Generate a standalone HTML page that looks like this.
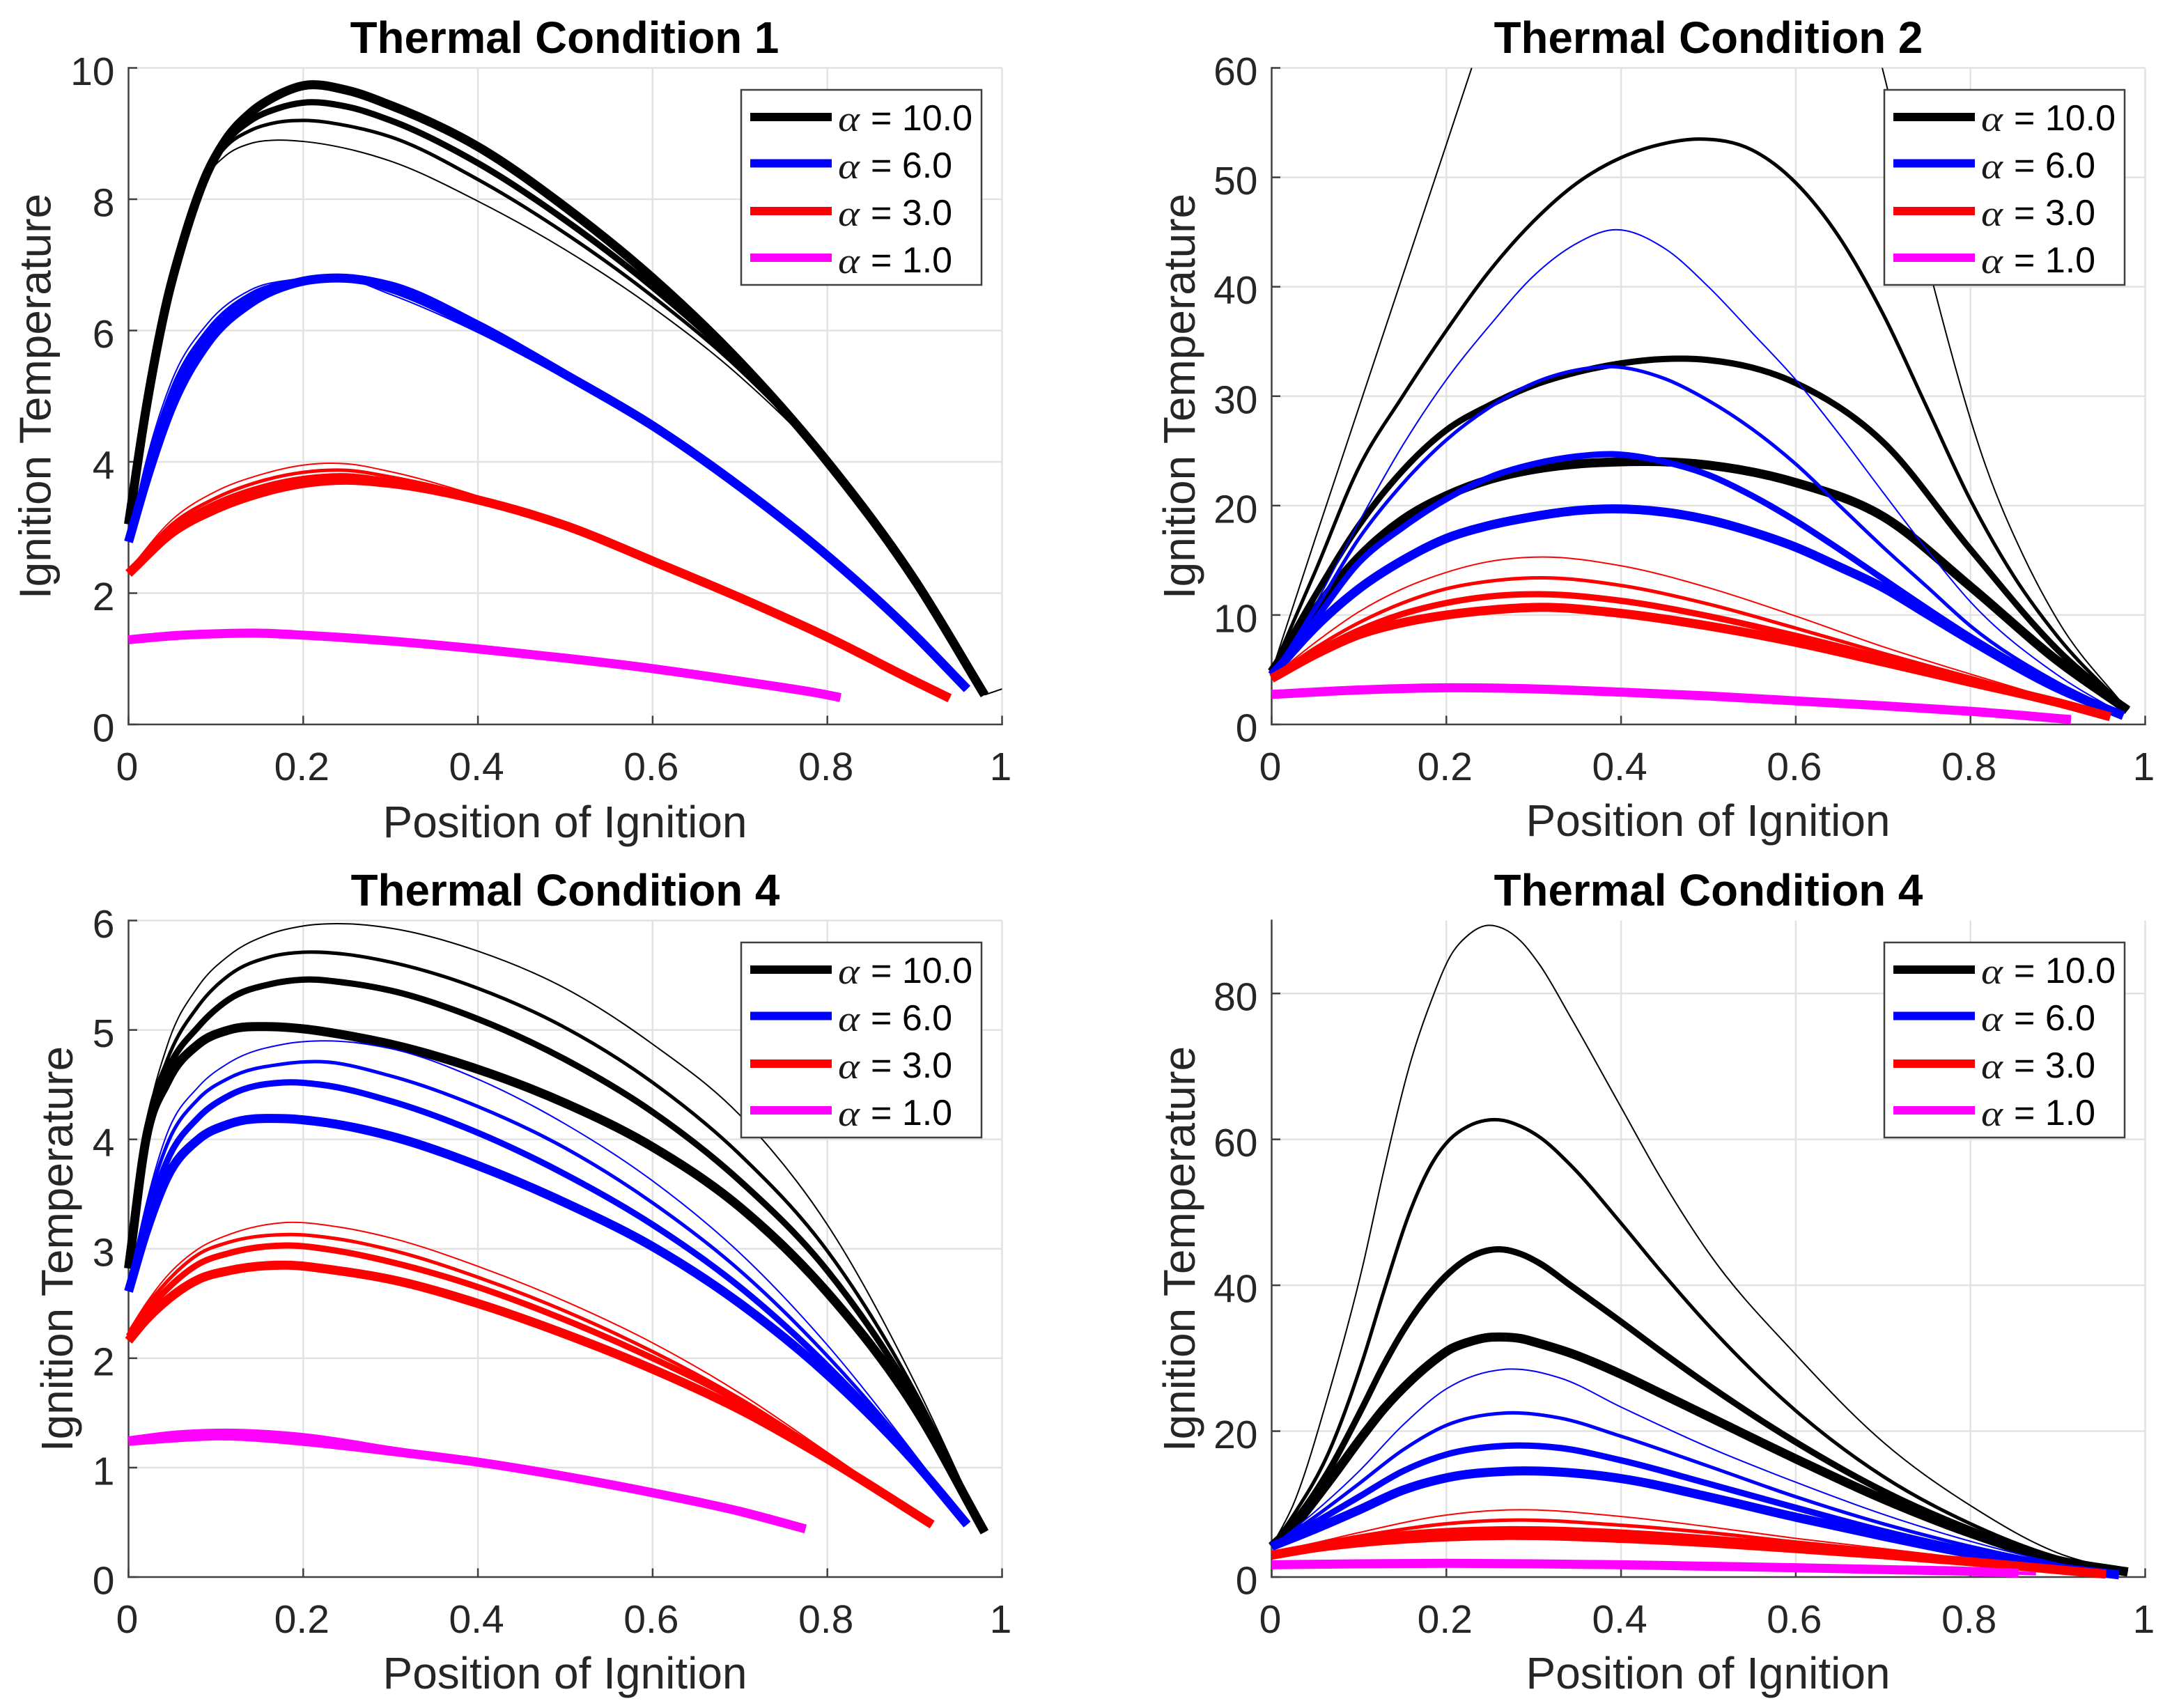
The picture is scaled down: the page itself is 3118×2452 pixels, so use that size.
<!DOCTYPE html>
<html lang="en">
<head>
<meta charset="utf-8">
<title>Ignition Temperature vs Position of Ignition</title>
<style>
html,body{margin:0;padding:0;background:#fff;}
svg{display:block;}
text{font-family:"Liberation Sans",sans-serif;}
.title{font-size:63.7px;font-weight:bold;fill:#000;text-anchor:middle;}
.axlabel{font-size:64px;fill:#262626;text-anchor:middle;}
.tick{font-size:57px;fill:#262626;}
.leg{font-size:52px;fill:#000;}
.alpha{font-family:"Liberation Serif",serif;font-style:italic;font-size:52px;fill:#1a1a1a;}
.legbox{fill:#fff;stroke:#404040;stroke-width:2.5;}
.legline{stroke-width:12;fill:none;}
</style>
</head>
<body>
<svg id="figure" xmlns="http://www.w3.org/2000/svg" width="3118" height="2452" viewBox="0 0 3118 2452">
  <rect width="3118" height="2452" fill="#fff"/>

  <g id="panel1">
    <g class="plot"></g>
    <text class="title" x="810.5" y="76">Thermal Condition 1</text>
    <text class="axlabel" x="811" y="1202">Position of Ignition</text>
    <text class="axlabel" transform="translate(72.5 569) rotate(-90)">Ignition Temperature</text>
    <g>
      <rect class="legbox" x="1064" y="129" width="345" height="280"/>
      <g><line class="legline" x1="1077" x2="1194" y1="168" y2="168" stroke="#000"/><text class="alpha" x="1203" y="188" textLength="31" lengthAdjust="spacingAndGlyphs">α</text><text class="leg" x="1250" y="187">= 10.0</text></g>
      <g><line class="legline" x1="1077" x2="1194" y1="234.5" y2="234.5" stroke="#00f"/><text class="alpha" x="1203" y="256" textLength="31" lengthAdjust="spacingAndGlyphs">α</text><text class="leg" x="1250" y="255">= 6.0</text></g>
      <g><line class="legline" x1="1077" x2="1194" y1="303" y2="303" stroke="#f00"/><text class="alpha" x="1203" y="324" textLength="31" lengthAdjust="spacingAndGlyphs">α</text><text class="leg" x="1250" y="323">= 3.0</text></g>
      <g><line class="legline" x1="1077" x2="1194" y1="370" y2="370" stroke="#f0f"/><text class="alpha" x="1203" y="392" textLength="31" lengthAdjust="spacingAndGlyphs">α</text><text class="leg" x="1250" y="391">= 1.0</text></g>
    </g>
  </g>

  <g id="panel2" transform="translate(1641 0)">
    <g class="plot"></g>
    <text class="title" x="811.5" y="76">Thermal Condition 2</text>
    <text class="axlabel" x="811" y="1200">Position of Ignition</text>
    <text class="axlabel" transform="translate(74 569) rotate(-90)">Ignition Temperature</text>
    <g>
      <rect class="legbox" x="1064" y="129" width="345" height="280"/>
      <g><line class="legline" x1="1077" x2="1194" y1="168" y2="168" stroke="#000"/><text class="alpha" x="1203" y="188" textLength="31" lengthAdjust="spacingAndGlyphs">α</text><text class="leg" x="1250" y="187">= 10.0</text></g>
      <g><line class="legline" x1="1077" x2="1194" y1="234.5" y2="234.5" stroke="#00f"/><text class="alpha" x="1203" y="256" textLength="31" lengthAdjust="spacingAndGlyphs">α</text><text class="leg" x="1250" y="255">= 6.0</text></g>
      <g><line class="legline" x1="1077" x2="1194" y1="303" y2="303" stroke="#f00"/><text class="alpha" x="1203" y="324" textLength="31" lengthAdjust="spacingAndGlyphs">α</text><text class="leg" x="1250" y="323">= 3.0</text></g>
      <g><line class="legline" x1="1077" x2="1194" y1="370" y2="370" stroke="#f0f"/><text class="alpha" x="1203" y="392" textLength="31" lengthAdjust="spacingAndGlyphs">α</text><text class="leg" x="1250" y="391">= 1.0</text></g>
    </g>
  </g>

  <g id="panel3" transform="translate(0 1224)">
    <g class="plot"></g>
    <text class="title" x="811.5" y="76">Thermal Condition 4</text>
    <text class="axlabel" x="811" y="1200">Position of Ignition</text>
    <text class="axlabel" transform="translate(104 569) rotate(-90)">Ignition Temperature</text>
    <g>
      <rect class="legbox" x="1064" y="129" width="345" height="280"/>
      <g><line class="legline" x1="1077" x2="1194" y1="168" y2="168" stroke="#000"/><text class="alpha" x="1203" y="188" textLength="31" lengthAdjust="spacingAndGlyphs">α</text><text class="leg" x="1250" y="187">= 10.0</text></g>
      <g><line class="legline" x1="1077" x2="1194" y1="234.5" y2="234.5" stroke="#00f"/><text class="alpha" x="1203" y="256" textLength="31" lengthAdjust="spacingAndGlyphs">α</text><text class="leg" x="1250" y="255">= 6.0</text></g>
      <g><line class="legline" x1="1077" x2="1194" y1="303" y2="303" stroke="#f00"/><text class="alpha" x="1203" y="324" textLength="31" lengthAdjust="spacingAndGlyphs">α</text><text class="leg" x="1250" y="323">= 3.0</text></g>
      <g><line class="legline" x1="1077" x2="1194" y1="370" y2="370" stroke="#f0f"/><text class="alpha" x="1203" y="392" textLength="31" lengthAdjust="spacingAndGlyphs">α</text><text class="leg" x="1250" y="391">= 1.0</text></g>
    </g>
  </g>

  <g id="panel4" transform="translate(1641 1224)">
    <g class="plot"></g>
    <text class="title" x="811.5" y="76">Thermal Condition 4</text>
    <text class="axlabel" x="811" y="1200">Position of Ignition</text>
    <text class="axlabel" transform="translate(74 569) rotate(-90)">Ignition Temperature</text>
    <g>
      <rect class="legbox" x="1064" y="129" width="345" height="280"/>
      <g><line class="legline" x1="1077" x2="1194" y1="168" y2="168" stroke="#000"/><text class="alpha" x="1203" y="188" textLength="31" lengthAdjust="spacingAndGlyphs">α</text><text class="leg" x="1250" y="187">= 10.0</text></g>
      <g><line class="legline" x1="1077" x2="1194" y1="234.5" y2="234.5" stroke="#00f"/><text class="alpha" x="1203" y="256" textLength="31" lengthAdjust="spacingAndGlyphs">α</text><text class="leg" x="1250" y="255">= 6.0</text></g>
      <g><line class="legline" x1="1077" x2="1194" y1="303" y2="303" stroke="#f00"/><text class="alpha" x="1203" y="324" textLength="31" lengthAdjust="spacingAndGlyphs">α</text><text class="leg" x="1250" y="323">= 3.0</text></g>
      <g><line class="legline" x1="1077" x2="1194" y1="370" y2="370" stroke="#f0f"/><text class="alpha" x="1203" y="392" textLength="31" lengthAdjust="spacingAndGlyphs">α</text><text class="leg" x="1250" y="391">= 1.0</text></g>
    </g>
  </g>
</svg>

<script>
// ---- shared tick values ----
const xTickValues = [0, 0.2, 0.4, 0.6, 0.8, 1];
const xTickLabels = ['0', '0.2', '0.4', '0.6', '0.8', '1'];

// ---- Panel 1 ----
const p1YTicks = [0, 2, 4, 6, 8, 10];
const p1BlackX = [0, .02, .044, .063, .09, .11, .14, .17, .2, .25, .3, .4, .5, .6, .7, .8, .9, .98];
const p1BlackA = [3.05, 4.8, 6.45, 7.38, 8.35, 8.65, 8.85, 8.9, 8.88, 8.77, 8.58, 7.97, 7.23, 6.35, 5.3, 3.98, 2.2, .45];
const p1BlackB = [3.05, 4.8, 6.45, 7.38, 8.4, 8.78, 9.05, 9.17, 9.2, 9.12, 8.95, 8.3, 7.48, 6.52, 5.4, 4.0, 2.2, .45];
const p1BlackC = [3.05, 4.8, 6.45, 7.38, 8.4, 8.84, 9.2, 9.38, 9.47, 9.41, 9.2, 8.55, 7.68, 6.66, 5.47, 4.0, 2.2, .45];
const p1BlackD = [3.05, 4.8, 6.45, 7.38, 8.4, 8.88, 9.32, 9.58, 9.73, 9.66, 9.43, 8.8, 7.88, 6.8, 5.52, 4.0, 2.2, .45];
const p1TailX = [.98, 1];
const p1TailY = [.45, .54];
const p1BlueX = [0, .02, .05, .09, .14, .19, .24, .3, .4, .5, .6, .7, .8, .9, .96];
const p1BlueA = [2.84, 4.0, 5.25, 6.1, 6.62, 6.78, 6.82, 6.55, 5.97, 5.27, 4.53, 3.62, 2.57, 1.36, .54];
const p1BlueB = [2.82, 3.9, 5.12, 6.0, 6.56, 6.76, 6.81, 6.6, 6.0, 5.29, 4.54, 3.62, 2.57, 1.36, .54];
const p1BlueC = [2.8, 3.8, 4.98, 5.9, 6.48, 6.74, 6.8, 6.65, 6.04, 5.31, 4.55, 3.62, 2.57, 1.36, .54];
const p1BlueD = [2.78, 3.7, 4.85, 5.8, 6.42, 6.72, 6.8, 6.68, 6.08, 5.33, 4.55, 3.62, 2.57, 1.36, .54];
const p1RedX = [0, .05, .1, .15, .2, .25, .3, .4, .5, .6, .7, .8, .9, .94];
const p1RedA = [2.35, 3.12, 3.55, 3.8, 3.95, 3.97, 3.85, 3.48, 3.03, 2.49, 1.93, 1.33, .66, .4];
const p1RedB = [2.33, 3.05, 3.45, 3.7, 3.84, 3.87, 3.77, 3.46, 3.03, 2.49, 1.93, 1.33, .66, .4];
const p1RedC = [2.32, 2.98, 3.36, 3.6, 3.74, 3.78, 3.7, 3.44, 3.03, 2.49, 1.93, 1.33, .66, .4];
const p1RedD = [2.3, 2.92, 3.28, 3.52, 3.67, 3.72, 3.67, 3.42, 3.03, 2.49, 1.93, 1.33, .66, .4];
const p1MagX = [0, .05, .1, .15, .2, .3, .4, .5, .6, .7, .8, .815];
const p1MagA = [1.31, 1.37, 1.4, 1.41, 1.38, 1.29, 1.16, 1.01, .85, .66, .45, .41];
const p1MagB = [1.3, 1.36, 1.39, 1.4, 1.37, 1.28, 1.15, 1.01, .85, .66, .45, .41];
const p1MagC = [1.3, 1.36, 1.39, 1.4, 1.37, 1.28, 1.15, 1.01, .85, .66, .45, .41];
const p1MagD = [1.29, 1.35, 1.38, 1.39, 1.36, 1.27, 1.15, 1.01, .85, .66, .45, .41];

// ---- Panel 2 ----
const p2YTicks = [0, 10, 20, 30, 40, 50, 60];
const p2TopX = [0, .05, .1, .15, .2, .229, .3, .4, .5, .6, .65, .699, .758, .818, .86, .9, .98];
const p2TopY = [4.8, 17, 29, 41, 53, 60, 76, 88, 92, 84, 74, 60, 40, 23.5, 15.5, 9.5, 1.3];
const p2BlackBX = [0, .05, .1, .15, .2, .25, .3, .35, .4, .45, .49, .55, .6, .65, .7, .75, .8, .85, .9, .98];
const p2BlackB = [4.8, 14, 23.5, 30, 36, 41.5, 46, 49.5, 51.8, 53.1, 53.5, 52.5, 49.5, 44.5, 37.5, 29, 20.5, 13.5, 8, 1.3];
const p2BlackX = [0, .05, .1, .15, .2, .25, .3, .35, .4, .45, .5, .6, .7, .8, .9, .98];
const p2BlackC = [4.8, 11.8, 18.2, 23.2, 26.9, 29.2, 31, 32.2, 33, 33.4, 33.3, 31.2, 25.8, 16, 6.8, 1.3];
const p2BlackD = [4.8, 10.5, 15.3, 18.7, 20.9, 22.4, 23.3, 23.8, 24, 24, 23.7, 22.1, 19, 12.6, 5.8, 1.3];
const p2BlueX = [0, .05, .1, .15, .2, .25, .3, .35, .39, .45, .5, .55, .6, .65, .7, .75, .8, .9, .975];
const p2BlueA = [4.5, 11, 18.5, 25.5, 31.5, 36.5, 41, 44, 45.2, 43.5, 40, 35.8, 31.5, 26.5, 21.2, 16, 11.2, 4.5, .9];
const p2BlueB = [4.5, 10.5, 17, 22, 26, 29, 31.2, 32.4, 32.7, 31.6, 29.6, 27, 23.8, 20, 16.2, 12.6, 9, 3.8, .9];
const p2BlueC = [4.5, 9.6, 14.8, 18, 20.6, 22.6, 23.8, 24.5, 24.7, 24, 22.8, 20.9, 18.6, 16, 13.3, 10.6, 8, 3.5, .9];
const p2BlueD = [4.5, 8.9, 12.4, 15, 17, 18.2, 19, 19.55, 19.7, 19.4, 18.7, 17.6, 16.2, 14.4, 12.5, 10.1, 7.7, 3.3, .8];
const p2RedX = [0, .05, .1, .15, .2, .25, .31, .4, .5, .6, .7, .8, .9, .96];
const p2RedA = [4.3, 7.5, 10.3, 12.4, 13.9, 14.9, 15.3, 14.5, 12.5, 9.9, 7.1, 4.6, 2.2, .7];
const p2RedB = [4.3, 7.0, 9.3, 11.1, 12.4, 13.1, 13.4, 12.7, 11, 8.8, 6.5, 4.3, 2.1, .7];
const p2RedC = [4.3, 6.6, 8.6, 10.1, 11.1, 11.7, 11.9, 11.3, 9.9, 8.1, 6.1, 4.1, 2.05, .7];
const p2RedD = [4.2, 6.4, 8.2, 9.3, 10, 10.45, 10.7, 10.15, 9, 7.5, 5.7, 3.85, 2, .7];
const p2MagX = [0, .1, .2, .3, .4, .5, .6, .7, .8, .915];
const p2MagA = [2.9, 3.3, 3.5, 3.35, 3.05, 2.65, 2.2, 1.7, 1.2, .45];
const p2MagB = [2.85, 3.25, 3.45, 3.3, 3, 2.6, 2.2, 1.7, 1.2, .45];
const p2MagC = [2.8, 3.2, 3.4, 3.3, 3, 2.6, 2.2, 1.7, 1.2, .45];
const p2MagD = [2.75, 3.15, 3.35, 3.25, 2.95, 2.6, 2.15, 1.7, 1.2, .45];

// ---- Panel 3 ----
const p3YTicks = [0, 1, 2, 3, 4, 5, 6];
const p3BlackX = [0, .02, .044, .08, .115, .163, .2, .25, .3, .4, .5, .6, .7, .8, .9, .98];
const p3BlackA = [2.9, 4.1, 4.85, 5.4, 5.68, 5.88, 5.95, 5.97, 5.93, 5.72, 5.38, 4.87, 4.22, 3.22, 1.78, .41];
const p3BlackB = [2.88, 4.1, 4.72, 5.22, 5.5, 5.67, 5.71, 5.69, 5.62, 5.38, 5.02, 4.52, 3.86, 2.98, 1.7, .41];
const p3BlackC = [2.85, 4.05, 4.62, 5.03, 5.28, 5.42, 5.46, 5.43, 5.36, 5.1, 4.73, 4.25, 3.62, 2.8, 1.63, .41];
const p3BlackD = [2.82, 4.0, 4.52, 4.87, 5.0, 5.03, 5.01, 4.95, 4.87, 4.64, 4.33, 3.93, 3.38, 2.6, 1.55, .41];
const p3BlueX = [0, .02, .044, .08, .115, .178, .22, .3, .4, .5, .6, .7, .8, .9, .96];
const p3BlueA = [2.66, 3.4, 4.05, 4.48, 4.7, 4.87, 4.9, 4.83, 4.55, 4.14, 3.62, 2.96, 2.12, 1.12, .48];
const p3BlueB = [2.65, 3.35, 3.95, 4.37, 4.56, 4.69, 4.71, 4.58, 4.3, 3.92, 3.42, 2.8, 2.02, 1.1, .48];
const p3BlueC = [2.63, 3.25, 3.8, 4.2, 4.4, 4.52, 4.5, 4.35, 4.06, 3.68, 3.22, 2.65, 1.93, 1.07, .48];
const p3BlueD = [2.61, 3.15, 3.65, 4.0, 4.14, 4.19, 4.16, 4.03, 3.76, 3.42, 3.02, 2.5, 1.85, 1.05, .48];
const p3RedX = [0, .02, .044, .08, .115, .18, .24, .3, .4, .5, .6, .7, .8, .92];
const p3RedA = [2.25, 2.5, 2.75, 3.0, 3.13, 3.24, 3.2, 3.1, 2.84, 2.52, 2.14, 1.68, 1.14, .48];
const p3RedB = [2.22, 2.47, 2.7, 2.95, 3.06, 3.13, 3.09, 2.99, 2.74, 2.43, 2.06, 1.63, 1.12, .48];
const p3RedC = [2.2, 2.42, 2.63, 2.86, 2.96, 3.03, 2.98, 2.88, 2.65, 2.35, 2.0, 1.6, 1.1, .48];
const p3RedD = [2.16, 2.35, 2.53, 2.72, 2.8, 2.85, 2.8, 2.72, 2.5, 2.22, 1.9, 1.53, 1.08, .48];
const p3MagX = [0, .05, .1, .2, .3, .4, .5, .6, .7, .775];
const p3MagA = [1.28, 1.33, 1.35, 1.31, 1.19, 1.06, .92, .77, .6, .44];
const p3MagB = [1.27, 1.31, 1.33, 1.29, 1.18, 1.06, .92, .77, .6, .44];
const p3MagC = [1.25, 1.29, 1.31, 1.26, 1.16, 1.05, .92, .77, .6, .44];
const p3MagD = [1.24, 1.27, 1.29, 1.24, 1.15, 1.05, .92, .77, .6, .44];

// ---- Panel 4 ----
const p4YMax = 90;
const p4YTicks = [0, 20, 40, 60, 80];
const p4BlackX = [0, .025, .065, .105, .128, .16, .184, .204, .225, .245, .265, .285, .307, .342, .4, .445, .5, .6, .7, .8, .9, .98];
const p4BlackA = [4.2, 10, 25, 43, 55.5, 71, 79.4, 85, 88, 89.3, 88.9, 87.2, 83.9, 76.8, 64.4, 54.8, 44.5, 30.5, 18.5, 9.8, 3.3, .7];
const p4BlackB = [4.2, 8.5, 17, 30, 39, 50.6, 56.8, 60, 61.8, 62.6, 62.6, 61.8, 60.3, 56.5, 48.5, 42, 34.5, 22.8, 13.8, 7.3, 2.7, .7];
const p4BlackC = [4.2, 7.5, 14.5, 23.5, 29, 35.5, 39.3, 41.8, 43.7, 44.7, 44.9, 44.3, 43, 40, 35, 31, 26.3, 18.5, 11.8, 6.5, 2.4, .7];
const p4BlackD = [4.2, 7, 13, 19.5, 23, 27, 29.5, 31.2, 32.2, 32.8, 32.9, 32.7, 32, 30.7, 27.8, 25.2, 22, 16.2, 10.7, 6, 2.3, .7];
const p4BlueX = [0, .05, .1, .15, .2, .27, .33, .4, .5, .6, .7, .8, .9, .97];
const p4BlueA = [4.2, 9, 14.5, 20.8, 25.8, 28.5, 27.3, 23.3, 17.8, 13, 8.6, 4.9, 1.9, .3];
const p4BlueB = [4.2, 8.3, 12.8, 17.4, 20.8, 22.5, 21.8, 19.3, 15.2, 11, 7.3, 4.2, 1.7, .3];
const p4BlueC = [4.2, 7.5, 11, 14.5, 16.8, 18, 17.7, 16, 12.8, 9.5, 6.3, 3.6, 1.5, .3];
const p4BlueD = [4.2, 6.6, 9.2, 11.9, 13.6, 14.5, 14.4, 13.5, 11, 8.2, 5.6, 3.2, 1.3, .3];
const p4RedX = [0, .05, .1, .2, .27, .4, .5, .6, .7, .8, .9, .955];
const p4RedA = [3.4, 4.7, 6.1, 8.5, 9.2, 8.3, 6.9, 5.3, 3.9, 2.5, 1.1, .4];
const p4RedB = [3.3, 4.5, 5.6, 7.3, 7.8, 7.1, 6.1, 4.8, 3.6, 2.3, 1.05, .4];
const p4RedC = [3.2, 4.3, 5.2, 6.3, 6.55, 6.1, 5.3, 4.3, 3.3, 2.2, 1.0, .4];
const p4RedD = [3, 4.0, 4.7, 5.5, 5.7, 5.3, 4.7, 3.9, 3.05, 2.1, 1.0, .4];
const p4MagX = [0, .1, .2, .3, .4, .5, .6, .7, .8, .855];
const p4MagA = [1.75, 1.9, 1.95, 1.9, 1.75, 1.55, 1.3, 1.05, .8, .52];
const p4MagB = [1.72, 1.87, 1.92, 1.87, 1.72, 1.5, 1.3, 1.05, .8, .52];
const p4MagC = [1.7, 1.85, 1.9, 1.85, 1.7, 1.5, 1.3, 1.05, .8, .52];
const p4MagD = [1.68, 1.82, 1.88, 1.82, 1.68, 1.48, 1.28, 1.03, .78, .52];
const p4MagTailX = [.8, .875];
const p4MagTailY = [.82, .45];

// ---- geometry (local panel coordinates) ----
const SVGNS = 'http://www.w3.org/2000/svg';
const AX = {left: 184.5, right: 1438.5, top: 97.5, bottom: 1040};
const LINE_W = [2, 5, 9, 13];
const X_MAX = 1;

function mk(tag, attrs, parent) {
  const el = document.createElementNS(SVGNS, tag);
  for (const k in attrs) el.setAttribute(k, attrs[k]);
  parent.appendChild(el);
  return el;
}

function xScale(v) {
  return AX.left + (v / X_MAX) * (AX.right - AX.left);
}

function makeYScale(yMax) {
  return function (v) {
    return AX.bottom - (v / yMax) * (AX.bottom - AX.top);
  };
}

function smoothPath(xs, ys, yScale) {
  const px = xs.map(xScale);
  const py = ys.map(yScale);
  const n = px.length;
  const m = [];
  for (let i = 0; i < n; i++) {
    if (i === 0) {
      m.push((py[1] - py[0]) / (px[1] - px[0]));
    } else if (i === n - 1) {
      m.push((py[n - 1] - py[n - 2]) / (px[n - 1] - px[n - 2]));
    } else {
      const h0 = px[i] - px[i - 1];
      const h1 = px[i + 1] - px[i];
      const s0 = (py[i] - py[i - 1]) / h0;
      const s1 = (py[i + 1] - py[i]) / h1;
      m.push((s0 * h1 + s1 * h0) / (h0 + h1));
    }
  }
  let d = 'M' + px[0].toFixed(2) + ' ' + py[0].toFixed(2);
  for (let i = 0; i < n - 1; i++) {
    const h = px[i + 1] - px[i];
    d += 'C' + (px[i] + h / 3).toFixed(2) + ' ' + (py[i] + m[i] * h / 3).toFixed(2) + ' ' +
         (px[i + 1] - h / 3).toFixed(2) + ' ' + (py[i + 1] - m[i + 1] * h / 3).toFixed(2) + ' ' +
         px[i + 1].toFixed(2) + ' ' + py[i + 1].toFixed(2);
  }
  return d;
}

function setupPanel(panelId, yMax, yTicks) {
  const root = document.querySelector('#' + panelId + ' .plot');
  const yScale = makeYScale(yMax);

  const clipId = panelId + '-clip';
  const defs = mk('defs', {}, root);
  const clip = mk('clipPath', {id: clipId}, defs);
  mk('rect', {x: AX.left - 14, y: AX.top, width: AX.right - AX.left + 14, height: AX.bottom - AX.top + 14}, clip);

  const grid = mk('g', {stroke: '#e2e2e2', 'stroke-width': 2.5, fill: 'none'}, root);
  
  
  xTickValues.forEach(function (v) {
    if (v === 0) return;
    const l = mk('line', {x1: xScale(v), x2: xScale(v), y1: AX.top, y2: AX.bottom}, grid);
    
    
  });
  yTicks.forEach(function (v) {
    if (v === 0) return;
    const l = mk('line', {x1: AX.left, x2: AX.right, y1: yScale(v), y2: yScale(v)}, grid);
    
    
  });

  const axes = mk('g', {stroke: '#404040', 'stroke-width': 2.5, fill: 'none'}, root);
  
  
  const xAxis = mk('line', {x1: AX.left - 1.25, x2: AX.right + 1.25, y1: AX.bottom, y2: AX.bottom}, axes);
  
  
  const yAxis = mk('line', {x1: AX.left, x2: AX.left, y1: AX.top - 1.25, y2: AX.bottom + 1.25}, axes);
  
  

  xTickValues.forEach(function (v, i) {
    const t = mk('line', {x1: xScale(v), x2: xScale(v), y1: AX.bottom, y2: AX.bottom - 12.5}, axes);
    
    
    const lab = mk('text', {x: xScale(v) - 2, y: AX.bottom + 80, class: 'tick', 'text-anchor': 'middle', stroke: 'none'}, root);
    
    
    lab.textContent = xTickLabels[i];
  });
  yTicks.forEach(function (v) {
    const t = mk('line', {x1: AX.left, x2: AX.left + 12.5, y1: yScale(v), y2: yScale(v)}, axes);
    
    
    const lab = mk('text', {x: AX.left - 20, y: yScale(v) + 24.5, class: 'tick', 'text-anchor': 'end'}, root);
    
    
    lab.textContent = String(v);
  });

  const curves = mk('g', {'clip-path': 'url(#' + clipId + ')', fill: 'none', 'stroke-linejoin': 'round', 'stroke-linecap': 'butt'}, root);
  
  
  return {curves: curves, yScale: yScale};
}

function drawCurve(panel, xs, ys, color, width) {
  const p = mk('path', {d: smoothPath(xs, ys, panel.yScale), stroke: color, 'stroke-width': width}, panel.curves);
  
  
}

const panelOne = setupPanel('panel1', p1YTicks[p1YTicks.length - 1], p1YTicks);
const panelTwo = setupPanel('panel2', p2YTicks[p2YTicks.length - 1], p2YTicks);
const panelThree = setupPanel('panel3', p3YTicks[p3YTicks.length - 1], p3YTicks);
const panelFour = setupPanel('panel4', p4YMax, p4YTicks);

// Panel 1
drawCurve(panelOne, p1BlackX, p1BlackD, '#000', LINE_W[3]);
drawCurve(panelOne, p1BlackX, p1BlackC, '#000', LINE_W[2]);
drawCurve(panelOne, p1BlackX, p1BlackB, '#000', LINE_W[1]);
drawCurve(panelOne, p1BlackX, p1BlackA, '#000', LINE_W[0]);
drawCurve(panelOne, p1TailX, p1TailY, '#000', LINE_W[0]);
drawCurve(panelOne, p1BlueX, p1BlueD, '#00f', LINE_W[3]);
drawCurve(panelOne, p1BlueX, p1BlueC, '#00f', LINE_W[2]);
drawCurve(panelOne, p1BlueX, p1BlueB, '#00f', LINE_W[1]);
drawCurve(panelOne, p1BlueX, p1BlueA, '#00f', LINE_W[0]);
drawCurve(panelOne, p1RedX, p1RedD, '#f00', LINE_W[3]);
drawCurve(panelOne, p1RedX, p1RedC, '#f00', LINE_W[2]);
drawCurve(panelOne, p1RedX, p1RedB, '#f00', LINE_W[1]);
drawCurve(panelOne, p1RedX, p1RedA, '#f00', LINE_W[0]);
drawCurve(panelOne, p1MagX, p1MagD, '#f0f', LINE_W[3]);
drawCurve(panelOne, p1MagX, p1MagC, '#f0f', LINE_W[2]);
drawCurve(panelOne, p1MagX, p1MagB, '#f0f', LINE_W[1]);
drawCurve(panelOne, p1MagX, p1MagA, '#f0f', LINE_W[0]);

// Panel 2
drawCurve(panelTwo, p2BlackX, p2BlackD, '#000', LINE_W[3]);
drawCurve(panelTwo, p2BlackX, p2BlackC, '#000', LINE_W[2]);
drawCurve(panelTwo, p2BlackBX, p2BlackB, '#000', LINE_W[1]);
drawCurve(panelTwo, p2TopX, p2TopY, '#000', LINE_W[0]);
drawCurve(panelTwo, p2BlueX, p2BlueD, '#00f', LINE_W[3]);
drawCurve(panelTwo, p2BlueX, p2BlueC, '#00f', LINE_W[2]);
drawCurve(panelTwo, p2BlueX, p2BlueB, '#00f', LINE_W[1]);
drawCurve(panelTwo, p2BlueX, p2BlueA, '#00f', LINE_W[0]);
drawCurve(panelTwo, p2RedX, p2RedD, '#f00', LINE_W[3]);
drawCurve(panelTwo, p2RedX, p2RedC, '#f00', LINE_W[2]);
drawCurve(panelTwo, p2RedX, p2RedB, '#f00', LINE_W[1]);
drawCurve(panelTwo, p2RedX, p2RedA, '#f00', LINE_W[0]);
drawCurve(panelTwo, p2MagX, p2MagD, '#f0f', LINE_W[3]);
drawCurve(panelTwo, p2MagX, p2MagC, '#f0f', LINE_W[2]);
drawCurve(panelTwo, p2MagX, p2MagB, '#f0f', LINE_W[1]);
drawCurve(panelTwo, p2MagX, p2MagA, '#f0f', LINE_W[0]);

// Panel 3
drawCurve(panelThree, p3BlackX, p3BlackD, '#000', LINE_W[3]);
drawCurve(panelThree, p3BlackX, p3BlackC, '#000', LINE_W[2]);
drawCurve(panelThree, p3BlackX, p3BlackB, '#000', LINE_W[1]);
drawCurve(panelThree, p3BlackX, p3BlackA, '#000', LINE_W[0]);
drawCurve(panelThree, p3BlueX, p3BlueD, '#00f', LINE_W[3]);
drawCurve(panelThree, p3BlueX, p3BlueC, '#00f', LINE_W[2]);
drawCurve(panelThree, p3BlueX, p3BlueB, '#00f', LINE_W[1]);
drawCurve(panelThree, p3BlueX, p3BlueA, '#00f', LINE_W[0]);
drawCurve(panelThree, p3RedX, p3RedD, '#f00', LINE_W[3]);
drawCurve(panelThree, p3RedX, p3RedC, '#f00', LINE_W[2]);
drawCurve(panelThree, p3RedX, p3RedB, '#f00', LINE_W[1]);
drawCurve(panelThree, p3RedX, p3RedA, '#f00', LINE_W[0]);
drawCurve(panelThree, p3MagX, p3MagD, '#f0f', LINE_W[3]);
drawCurve(panelThree, p3MagX, p3MagC, '#f0f', LINE_W[2]);
drawCurve(panelThree, p3MagX, p3MagB, '#f0f', LINE_W[1]);
drawCurve(panelThree, p3MagX, p3MagA, '#f0f', LINE_W[0]);

// Panel 4
drawCurve(panelFour, p4BlackX, p4BlackD, '#000', LINE_W[3]);
drawCurve(panelFour, p4BlackX, p4BlackC, '#000', LINE_W[2]);
drawCurve(panelFour, p4BlackX, p4BlackB, '#000', LINE_W[1]);
drawCurve(panelFour, p4BlackX, p4BlackA, '#000', LINE_W[0]);
drawCurve(panelFour, p4BlueX, p4BlueD, '#00f', LINE_W[3]);
drawCurve(panelFour, p4BlueX, p4BlueC, '#00f', LINE_W[2]);
drawCurve(panelFour, p4BlueX, p4BlueB, '#00f', LINE_W[1]);
drawCurve(panelFour, p4BlueX, p4BlueA, '#00f', LINE_W[0]);
drawCurve(panelFour, p4RedX, p4RedD, '#f00', LINE_W[3]);
drawCurve(panelFour, p4RedX, p4RedC, '#f00', LINE_W[2]);
drawCurve(panelFour, p4RedX, p4RedB, '#f00', LINE_W[1]);
drawCurve(panelFour, p4RedX, p4RedA, '#f00', LINE_W[0]);
drawCurve(panelFour, p4MagTailX, p4MagTailY, '#f0f', LINE_W[1]);
drawCurve(panelFour, p4MagX, p4MagD, '#f0f', LINE_W[3]);
drawCurve(panelFour, p4MagX, p4MagC, '#f0f', LINE_W[2]);
drawCurve(panelFour, p4MagX, p4MagB, '#f0f', LINE_W[1]);
drawCurve(panelFour, p4MagX, p4MagA, '#f0f', LINE_W[0]);
</script>
</body>
</html>
